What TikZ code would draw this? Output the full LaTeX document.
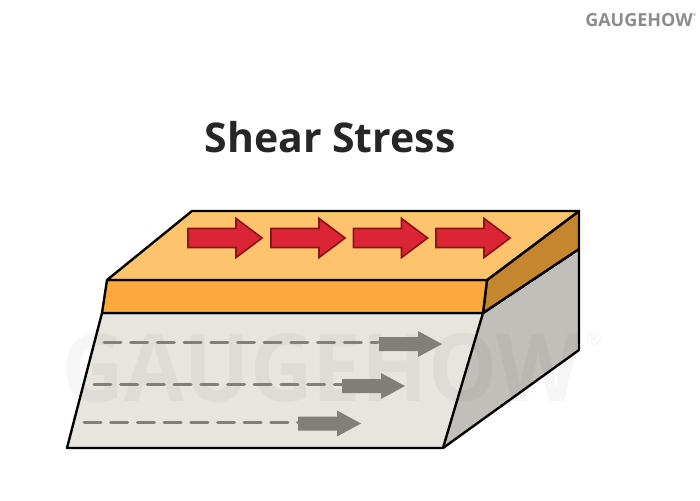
\documentclass[tikz,border=0pt]{standalone}
\usepackage{fontspec}
\setmainfont{Open Sans}
\definecolor{topc}{HTML}{FEC36D}
\definecolor{frontc}{HTML}{FBA93D}
\definecolor{sidec}{HTML}{C6862E}
\definecolor{grayside}{HTML}{C2BFBB}
\definecolor{block}{HTML}{E8E5DF}
\definecolor{redf}{HTML}{DC2534}
\definecolor{redd}{HTML}{8E1218}
\definecolor{grayarrow}{HTML}{827F79}
\definecolor{ink}{HTML}{262626}
\definecolor{logo}{HTML}{8C8C8C}
\tikzset{
  face/.style={draw=black,line width=2.4pt,line join=round},
  redarrow/.style={fill=redf,draw=redd,line width=1.7pt,line join=miter},
  grayhead/.style={fill=grayarrow,draw=none},
  dashline/.style={draw=grayarrow,line width=3pt,dash pattern=on 17pt off 9.7pt,line cap=round},
  mark wm/.style={black,opacity=0.035,font=\bfseries}
}
\newcommand{\redarr}[2]{%
  \draw[redarrow] (#1,#2-9.5) -- (#1+48,#2-9.5) -- (#1+48,#2-19.5) -- (#1+74,#2) -- (#1+48,#2+19.5) -- (#1+48,#2+9.5) -- (#1,#2+9.5) -- cycle;}
\newcommand{\grayarr}[2]{%
  \fill[grayhead] (#1,#2-7) -- (#1+39,#2-7) -- (#1+39,#2-13) -- (#1+63,#2) -- (#1+39,#2+13) -- (#1+39,#2+7) -- (#1,#2+7) -- cycle;}
\begin{document}
\begin{tikzpicture}[x=1pt,y=-1pt]
\useasboundingbox (0,0) rectangle (700,500);
\fill[white] (0,0) rectangle (700,500);
% block faces
\fill[grayside] (483,313) -- (579,249) -- (579,350) -- (443,448) -- cycle;
\fill[block] (102,313) -- (483,313) -- (443,448) -- (67,448) -- cycle;
% watermark
\node[mark wm,anchor=center] (wm) at (321,368) {\resizebox{519pt}{68pt}{GAUGEHOW}};
\node[mark wm,anchor=center] (wmr) at (594,338) {\fontsize{20}{20}\selectfont ®};
% dashes
\draw[dashline] (104,342) -- (378,342);
\draw[dashline] (94,384) -- (342,384);
\draw[dashline] (84,422) -- (298,422);
\grayarr{379}{344}
\grayarr{342}{386}
\grayarr{298}{423.5}
% outlines
\draw[face] (102,313) -- (483,313) -- (443,448) -- (67,448) -- cycle;
\draw[face] (483,313) -- (579,249) -- (579,350) -- (443,448);
\draw[face,fill=sidec] (487,280) -- (579,211) -- (579,249) -- (483,313) -- cycle;
\draw[face,fill=frontc] (107,280) -- (487,280) -- (483,313) -- (102,313) -- cycle;
\draw[face,fill=topc] (192,211) -- (579,211) -- (487,280) -- (107,280) -- cycle;
% red arrows
\redarr{188}{238}
\redarr{271}{238}
\redarr{353.5}{238}
\redarr{436}{238}
% texts
\node[text=ink,font=\fontsize{41}{41}\selectfont\bfseries,anchor=center] (title) at (330,137.5) {Shear Stress};
\node[text=logo,font=\fontsize{18}{18}\selectfont\bfseries,anchor=center] (logotext) at (639,20.5) {GAUGEHOW};
\node[text=logo,font=\fontsize{4}{4}\selectfont,anchor=center,inner sep=0pt] (logor) at (694.5,15) {®};
\end{tikzpicture}
\end{document}
